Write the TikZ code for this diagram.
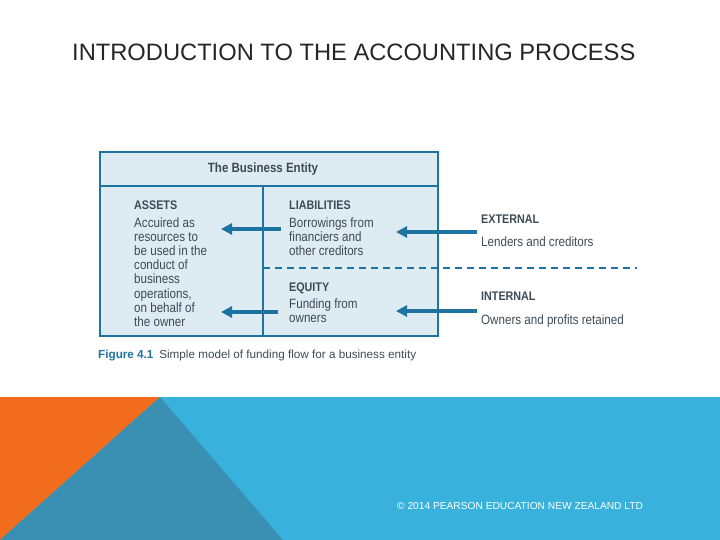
\documentclass[tikz,border=0pt]{standalone}
\usepackage{fontspec}
\setmainfont{Liberation Sans}
\newfontfamily\condfont[FakeStretch=0.86]{Liberation Sans}
\usetikzlibrary{arrows.meta}

\definecolor{entityblue}{HTML}{1F73A0}
\definecolor{entityfill}{HTML}{DDEBF3}
\definecolor{entitytext}{HTML}{3E4B55}
\definecolor{bandblue}{HTML}{38B1DC}
\definecolor{banddark}{HTML}{3A90B2}
\definecolor{bandorange}{HTML}{F26C1E}

\newcommand{\entityhead}[1]{{\bfseries\fontsize{12.5}{14.2}\selectfont #1}}

\tikzset{
    flow/.style={draw=entityblue, line width=3.5pt, -{Triangle[length=11pt,width=11pt]}},
    boxtext/.style={anchor=north west, inner sep=0pt, align=left, text=entitytext,
        font=\condfont\fontsize{13.5}{14.2}\selectfont},
    split/.style={draw=entityblue, line width=1.4pt, dash pattern=on 7pt off 5pt}
}

\begin{document}
\begin{tikzpicture}[x=1pt, y=-1pt]
    \useasboundingbox (0,0) rectangle (720,540);

    % Title
    \node[anchor=base west, inner sep=0pt, font=\fontsize{23.7}{27}\selectfont, text=black!85] (title) at (72,61)
        {INTRODUCTION TO THE ACCOUNTING PROCESS};

    % Bottom band
    \fill[bandblue] (0,397) rectangle (720,540);
    \fill[bandorange] (0,397) -- (160,397) -- (0,540) -- cycle;
    \fill[banddark] (160,397) -- (283,540) -- (0,540) -- cycle;
    \node[anchor=base west, inner sep=0pt, text=white, font=\fontsize{10.2}{12}\selectfont] (copy) at (397,509)
        {\textcopyright{} 2014 PEARSON EDUCATION NEW ZEALAND LTD};

    % The business entity box
    \draw[entityblue, fill=entityfill, line width=1.6pt] (100,152) rectangle (438,336);
    \draw[entityblue, line width=1.6pt] (100,186) -- (438,186);
    \draw[entityblue, line width=1.6pt] (263,186) -- (263,336);
    \node[font=\condfont\bfseries\fontsize{13.4}{15}\selectfont, text=entitytext] (entity) at (263,169) {The Business Entity};

    % Dashed split between liabilities and equity
    \coordinate (splitL) at (263,268);
    \coordinate (splitR) at (637,268);
    \draw[split] (splitL) -- (splitR);

    % Text blocks
    \node[boxtext] (assets) at (134,201) {\entityhead{ASSETS}\\[3pt]
        Accuired as\\ resources to\\ be used in the\\ conduct of\\ business\\ operations,\\ on behalf of\\ the owner};
    \node[boxtext] (liab) at (289,201) {\entityhead{LIABILITIES}\\[3pt]
        Borrowings from\\ financiers and\\ other creditors};
    \node[boxtext] (equity) at (289,283) {\entityhead{EQUITY}\\[2pt]
        Funding from\\ owners};
    \node[boxtext] (external) at (481,215) {\entityhead{EXTERNAL}\\[8pt]
        Lenders and creditors};
    \node[boxtext] (internal) at (481,292) {\entityhead{INTERNAL}\\[9pt]
        Owners and profits retained};

    % Funding flow arrows
    \coordinate (liabOut) at (281,229);
    \coordinate (assetsInA) at (221,229);
    \coordinate (equityOut) at (278,312);
    \coordinate (assetsInB) at (221,312);
    \coordinate (extOut) at (477,232);
    \coordinate (liabIn) at (396,232);
    \coordinate (intOut) at (477,311);
    \coordinate (equityIn) at (396,311);
    \draw[flow] (liabOut) -- (assetsInA);
    \draw[flow] (equityOut) -- (assetsInB);
    \draw[flow] (extOut) -- (liabIn);
    \draw[flow] (intOut) -- (equityIn);

    % Caption
    \node[anchor=base west, inner sep=0pt, font=\fontsize{11.7}{13}\selectfont, text=entitytext] (caption) at (98,358)
        {\textcolor{entityblue}{\textbf{Figure 4.1}}\enspace Simple model of funding flow for a business entity};
\end{tikzpicture}
\end{document}
